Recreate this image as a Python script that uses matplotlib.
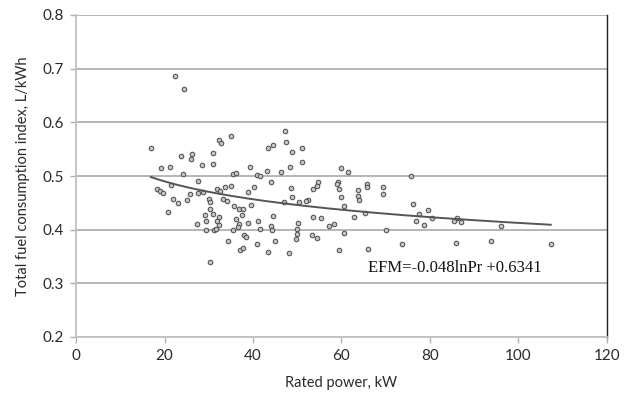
import numpy as np
import matplotlib
matplotlib.use("Agg")
import matplotlib.pyplot as plt

rated_power = [
    16.88, 22.44, 24.34, 34.96, 32.38, 32.70, 23.73, 26.28, 25.92, 31.03,
    19.14, 21.24, 28.47, 30.89, 39.32, 24.25, 35.55, 36.09, 40.84, 41.58,
    27.64, 21.47, 18.24, 18.98, 19.73, 28.77, 27.64, 25.76, 31.80, 32.54,
    33.74, 35.03, 38.94, 40.29, 21.85, 23.12, 25.02, 30.12, 30.28, 33.29,
    34.06, 39.55, 35.77, 36.84, 37.67, 20.86, 30.28, 29.22, 31.03, 32.32,
    37.45, 29.38, 31.80, 36.16, 27.28, 32.32, 36.84, 36.54, 38.94, 29.38,
    31.19, 31.64, 35.41, 41.20, 34.42, 38.03, 38.42, 40.97, 37.06, 37.81,
    30.28, 47.23, 47.39, 43.32, 44.59, 48.75, 51.01, 51.01, 48.36, 43.10,
    46.26, 59.89, 61.40, 44.00, 48.52, 54.62, 54.40, 53.49, 59.28, 59.05,
    59.44, 65.69, 65.83, 63.80, 48.75, 59.82, 63.80, 63.95, 52.36, 51.98,
    50.46, 47.07, 60.56, 44.45, 53.63, 55.37, 62.89, 65.31, 41.58, 44.00,
    44.23, 50.24, 50.01, 49.88, 49.72, 57.18, 58.31, 53.27, 54.40, 60.63,
    44.97, 43.32, 48.14, 59.50, 65.92, 75.64, 69.45, 69.31, 76.09, 79.62,
    77.58, 76.84, 80.52, 78.71, 85.42, 86.03, 87.01, 70.06, 95.98, 73.60,
    85.81, 93.94, 107.34,
]
fuel_index = [
    0.553, 0.687, 0.662, 0.574, 0.567, 0.561, 0.538, 0.541, 0.531, 0.542,
    0.515, 0.516, 0.520, 0.522, 0.516, 0.503, 0.503, 0.505, 0.502, 0.500,
    0.491, 0.484, 0.475, 0.472, 0.468, 0.471, 0.468, 0.466, 0.476, 0.472,
    0.479, 0.481, 0.471, 0.479, 0.458, 0.449, 0.456, 0.458, 0.452, 0.458,
    0.454, 0.446, 0.444, 0.438, 0.438, 0.433, 0.438, 0.428, 0.430, 0.424,
    0.427, 0.417, 0.416, 0.419, 0.410, 0.408, 0.410, 0.405, 0.412, 0.399,
    0.399, 0.402, 0.399, 0.416, 0.379, 0.390, 0.386, 0.374, 0.362, 0.365,
    0.340, 0.584, 0.564, 0.553, 0.557, 0.545, 0.553, 0.527, 0.517, 0.509,
    0.507, 0.515, 0.508, 0.489, 0.477, 0.488, 0.481, 0.475, 0.489, 0.485,
    0.475, 0.485, 0.480, 0.474, 0.461, 0.461, 0.463, 0.456, 0.455, 0.453,
    0.451, 0.451, 0.445, 0.426, 0.424, 0.422, 0.424, 0.431, 0.401, 0.407,
    0.399, 0.413, 0.402, 0.392, 0.382, 0.407, 0.410, 0.390, 0.385, 0.393,
    0.379, 0.359, 0.356, 0.362, 0.364, 0.500, 0.480, 0.467, 0.448, 0.436,
    0.430, 0.417, 0.421, 0.409, 0.417, 0.421, 0.414, 0.399, 0.406, 0.374,
    0.375, 0.379, 0.373,
]
fit_slope = -0.0481
fit_intercept = 0.6341
fit_label = "EFM=-0.048lnPr +0.6341"
x_ticks = [0, 20, 40, 60, 80, 100, 120]
y_ticks = [0.2, 0.3, 0.4, 0.5, 0.6, 0.7, 0.8]
x_label = "Rated power, kW"
y_label = "Total fuel consumption index, L/kWh"

plt.rcParams['font.family'] = ['Lato', 'DejaVu Sans']

fig = plt.figure(figsize=(6.34, 4.0), dpi=100)
ax = fig.add_axes([0.12, 0.1575, 0.837, 0.805])

ax.set_xlim(0, 120)
ax.set_ylim(0.2, 0.8)
ax.set_xticks(x_ticks)
ax.set_yticks(y_ticks)
ax.set_xticklabels([str(t) for t in x_ticks], fontsize=11, color='#2a2a2a')
ax.set_yticklabels([f"{t:.1f}" for t in y_ticks], fontsize=11, color='#2a2a2a')
ax.yaxis.grid(True, color='#b0b0b0', linewidth=1.3)
ax.set_axisbelow(True)
for side in ['left', 'bottom', 'top']:
    ax.spines[side].set_color('#c0c0c0')
    ax.spines[side].set_linewidth(1.3)
ax.spines['top'].set_visible(False)
ax.spines['right'].set_color('#222222')
ax.spines['right'].set_linewidth(1.0)
ax.tick_params(axis='both', color='#b0b0b0', length=4, width=1, pad=5)

ax.scatter(rated_power, fuel_index, s=11, facecolor='#c4c4c4',
           edgecolor='#4a4a4a', linewidths=0.7, zorder=3)

xf = np.linspace(min(rated_power), max(rated_power), 200)
ax.plot(xf, fit_slope * np.log(xf) + fit_intercept, color='#555555',
        linewidth=1.4, zorder=4)

ax.text(66, 0.328, fit_label, fontsize=12, family=['Liberation Serif', 'DejaVu Serif'],
        va='center', ha='left', color='#111111')

ax.set_xlabel(x_label, fontsize=10.5, color='#2a2a2a', labelpad=9)
ax.set_ylabel(y_label, fontsize=10.5, color='#2a2a2a', labelpad=9)

fig.savefig('out.png', dpi=100)
